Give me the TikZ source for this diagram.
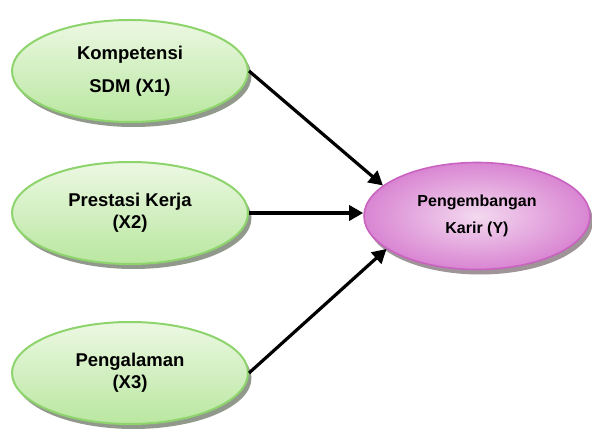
\documentclass[tikz,border=0pt]{standalone}
\usepackage{fontspec}
\setmainfont{Liberation Sans}
\usetikzlibrary{shapes.geometric,shadows,arrows.meta}
\definecolor{gtop}{HTML}{ECF8E2}
\definecolor{gbot}{HTML}{B9E7A0}
\definecolor{gline}{HTML}{8ED46C}
\definecolor{pin}{HTML}{F3D9EF}
\definecolor{pout}{HTML}{D985D2}
\definecolor{pline}{HTML}{C962C1}
\definecolor{shad}{HTML}{76806F}
\tikzset{
  greenell/.style={ellipse, draw=gline, line width=2pt, top color=gtop, bottom color=gbot,
    minimum width=236pt, minimum height=102pt, inner sep=0pt, align=center,
    font=\fontsize{18.5}{22}\selectfont\bfseries,
    drop shadow={shadow xshift=3.5pt, shadow yshift=-5pt, fill=shad, opacity=0.8}},
  pinkell/.style={ellipse, draw=pline, line width=1.6pt, inner color=pin, outer color=pout,
    minimum width=226pt, minimum height=107pt, inner sep=0pt, align=center,
    font=\fontsize{16}{19}\selectfont\bfseries,
    drop shadow={shadow xshift=3pt, shadow yshift=-5pt, fill=shad!80!pline, opacity=0.8}},
  conn/.style={line width=3.2pt, -{Triangle[length=14pt,width=15pt]}}
}
\begin{document}
\begin{tikzpicture}[x=1pt,y=-1pt]
\useasboundingbox (0,0) rectangle (592,438);
\node[greenell] (k1) at (130,71) {Kompetensi\\[11pt]SDM (X1)};
\node[greenell] (k2) at (130,213) {Prestasi Kerja\\[0pt](X2)};
\node[greenell] (k3) at (130,373) {Pengalaman\\[0pt](X3)};
\node[pinkell] (y) at (477,216) {Pengembangan\\[8pt]Karir (Y)};
\draw[conn] (k1.east) -- (y.162);
\draw[conn] (k2.east) -- (k2.east -| y.west);
\draw[conn] (k3.east) -- (y.200);
\end{tikzpicture}
\end{document}
